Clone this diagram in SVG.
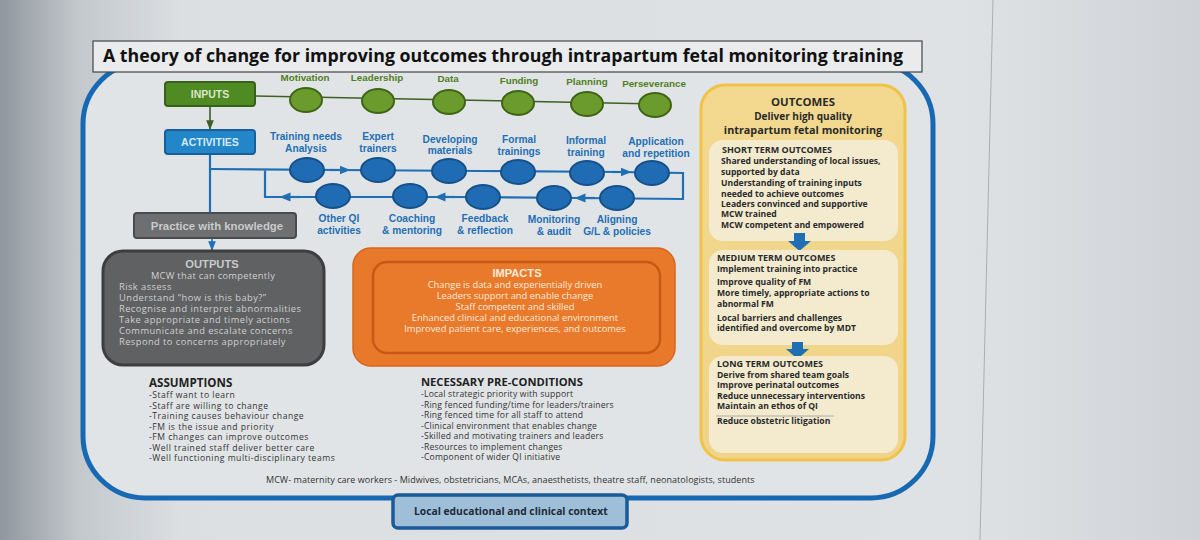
<svg xmlns="http://www.w3.org/2000/svg" width="1200" height="540" viewBox="0 0 1200 540">
<defs>
<linearGradient id="bg" x1="0" y1="0" x2="1" y2="0">
<stop offset="0" stop-color="#8f969d"/>
<stop offset="0.065" stop-color="#c3c8cd"/>
<stop offset="0.15" stop-color="#dbdfe2"/>
<stop offset="0.8" stop-color="#dfe2e5"/>
<stop offset="1" stop-color="#cfd3d7"/>
</linearGradient>
<linearGradient id="yel" x1="0" y1="0" x2="0" y2="1">
<stop offset="0" stop-color="#f2d98f"/>
<stop offset="1" stop-color="#efd389"/>
</linearGradient>
<marker id="ah" viewBox="0 0 10 10" refX="9" refY="5" markerWidth="6" markerHeight="6" orient="auto">
<path d="M0,1 L10,5 L0,9 z" fill="#1f6fb5"/>
</marker>
<marker id="ahg" viewBox="0 0 10 10" refX="9" refY="5" markerWidth="6" markerHeight="6" orient="auto">
<path d="M0,1 L10,5 L0,9 z" fill="#3f5f25"/>
</marker>
<marker id="mid" viewBox="0 0 10 10" refX="5" refY="5" markerWidth="5" markerHeight="5" orient="auto">
<path d="M0,1 L10,5 L0,9 z" fill="#1f6fb5"/>
</marker>
</defs>
<style>
.lbl{font-family:"Liberation Sans",Arial,sans-serif;font-weight:bold;font-size:10.2px;text-anchor:middle}
.gl{fill:#4f7f22;font-size:9.8px}
.bl{fill:#1f6fb5}
.gc{fill:#6b9b2c;stroke:#3d6515;stroke-width:2}
.bc{fill:#1f6cb4;stroke:#15508a;stroke-width:2}
.hdr{font-family:"Liberation Sans",Arial,sans-serif;font-weight:bold;text-anchor:middle}
.body{font-family:"Open Sans","Liberation Sans",sans-serif}
.bb{font-family:"Open Sans","Liberation Sans",sans-serif;font-weight:bold;fill:#2a2a2a}
.oc{font-size:8.6px}
.out{font-size:9.3px;letter-spacing:0.45px;fill:#cfd0d1}
.imp{font-size:9.4px;fill:#fbe9d8;text-anchor:middle}
.as{font-size:8.6px;letter-spacing:0.5px;fill:#333}
.pc{font-size:8.6px;letter-spacing:0.2px;fill:#333}
.mcw{font-size:9px;letter-spacing:0.05px;fill:#333}
.bline{fill:none;stroke:#1f6fb5;stroke-width:2.2}
</style>
<rect x="0" y="0" width="1200" height="540" fill="url(#bg)"/>
<path d="M993,0 L980,540" stroke="#a9aeb3" stroke-width="1"/>

<g id="frame">
<rect x="83" y="62" width="850" height="436" rx="62" ry="62" fill="#e1e4e6" stroke="#1769b3" stroke-width="5"/>
</g>

<g id="title">
<rect x="93" y="41" width="829" height="31" fill="#e9ebec" stroke="#444" stroke-width="1.2"/>
<text x="503" y="62" font-family="Open Sans,Liberation Sans,sans-serif" font-weight="bold" font-size="17.5" text-anchor="middle" fill="#111" textLength="800" lengthAdjust="spacingAndGlyphs">A theory of change for improving outcomes through intrapartum fetal monitoring training</text>
</g>

<g id="connectors">
<path d="M255,96 L657,104" stroke="#3f5f25" stroke-width="1.6" fill="none"/>
<path d="M210,106 L210,129" stroke="#3f5f25" stroke-width="1.6" fill="none" marker-end="url(#ahg)"/>
<path d="M210,154 L210,214" class="bline"/>
<path d="M210,169 L340,170 L480,171 L620,172 L683,173 L683,199 L580,198 L450,197 L300,197 L265,197 L265,169" class="bline"/>
<path d="M330,170 L345,170" class="bline" marker-end="url(#mid)"/>
<path d="M612,172 L626,172" class="bline" marker-end="url(#mid)"/>
<path d="M300,197 L285,197" class="bline" marker-end="url(#mid)"/>
<path d="M455,197 L440,197" class="bline" marker-end="url(#mid)"/>
<path d="M595,198 L580,198" class="bline" marker-end="url(#mid)"/>
<path d="M212,238 L212,250" stroke="#1f6fb5" stroke-width="1.6" fill="none" marker-end="url(#ah)"/>
</g>

<g id="inputs">
<rect x="165" y="82" width="90" height="24" rx="3" fill="#4f8a22" stroke="#35611a" stroke-width="2"/>
<text x="210" y="98" class="hdr" fill="#d9e6cc" style="font-size:10.5px">INPUTS</text>
</g>
<g id="input-motivation"><text x="305" y="81" class="lbl gl">Motivation</text><ellipse cx="306" cy="100" rx="16" ry="12" class="gc"/></g>
<g id="input-leadership"><text x="377" y="81" class="lbl gl">Leadership</text><ellipse cx="378" cy="101" rx="16" ry="12" class="gc"/></g>
<g id="input-data"><text x="448" y="82" class="lbl gl">Data</text><ellipse cx="449" cy="102" rx="16" ry="12" class="gc"/></g>
<g id="input-funding"><text x="519" y="84" class="lbl gl">Funding</text><ellipse cx="518" cy="103" rx="16" ry="12" class="gc"/></g>
<g id="input-planning"><text x="587" y="85" class="lbl gl">Planning</text><ellipse cx="587" cy="104" rx="16" ry="12" class="gc"/></g>
<g id="input-perseverance"><text x="654" y="87" class="lbl gl">Perseverance</text><ellipse cx="655" cy="105" rx="16" ry="12" class="gc"/></g>

<g id="activities">
<rect x="165" y="130" width="90" height="24" rx="3" fill="#2286c8" stroke="#175f9a" stroke-width="2"/>
<text x="210" y="146" class="hdr" fill="#d6e8f5" style="font-size:10.5px">ACTIVITIES</text>
</g>
<g id="act-tna"><text x="306" y="140" class="lbl bl">Training needs</text><text x="306" y="152" class="lbl bl">Analysis</text><ellipse cx="307" cy="170" rx="17" ry="12" class="bc"/></g>
<g id="act-expert"><text x="378" y="140" class="lbl bl">Expert</text><text x="378" y="152" class="lbl bl">trainers</text><ellipse cx="378" cy="170" rx="17" ry="12" class="bc"/></g>
<g id="act-materials"><text x="450" y="143" class="lbl bl">Developing</text><text x="450" y="154" class="lbl bl">materials</text><ellipse cx="449" cy="171" rx="17" ry="12" class="bc"/></g>
<g id="act-formal"><text x="519" y="143" class="lbl bl">Formal</text><text x="519" y="155" class="lbl bl">trainings</text><ellipse cx="518" cy="172" rx="17" ry="12" class="bc"/></g>
<g id="act-informal"><text x="586" y="144" class="lbl bl">Informal</text><text x="586" y="156" class="lbl bl">training</text><ellipse cx="587" cy="173" rx="17" ry="12" class="bc"/></g>
<g id="act-application"><text x="656" y="145" class="lbl bl">Application</text><text x="656" y="157" class="lbl bl">and repetition</text><ellipse cx="652" cy="173" rx="17" ry="12" class="bc"/></g>
<g id="act-otherqi"><ellipse cx="333" cy="196" rx="17" ry="12" class="bc"/><text x="339" y="222" class="lbl bl">Other QI</text><text x="339" y="234" class="lbl bl">activities</text></g>
<g id="act-coaching"><ellipse cx="410" cy="196" rx="17" ry="12" class="bc"/><text x="412" y="222" class="lbl bl">Coaching</text><text x="412" y="234" class="lbl bl">&amp; mentoring</text></g>
<g id="act-feedback"><ellipse cx="483" cy="197" rx="17" ry="12" class="bc"/><text x="485" y="222" class="lbl bl">Feedback</text><text x="485" y="234" class="lbl bl">&amp; reflection</text></g>
<g id="act-monitoring"><ellipse cx="554" cy="198" rx="17" ry="12" class="bc"/><text x="554" y="223" class="lbl bl">Monitoring</text><text x="554" y="235" class="lbl bl">&amp; audit</text></g>
<g id="act-aligning"><ellipse cx="617" cy="198" rx="17" ry="12" class="bc"/><text x="617" y="223" class="lbl bl">Aligning</text><text x="617" y="235" class="lbl bl">G/L &amp; policies</text></g>

<g id="practice">
<rect x="134" y="213" width="162" height="25" rx="3" fill="#6e6f70" stroke="#4a4b4c" stroke-width="2"/>
<text x="217" y="230" class="hdr" fill="#c9cacb" style="font-size:11.4px">Practice with knowledge</text>
</g>

<g id="outputs">
<rect x="103" y="251" width="221" height="114" rx="20" fill="#606162" stroke="#3d3e3f" stroke-width="3"/>
<text x="212" y="268" class="hdr" fill="#c9cacb" style="font-size:11.2px">OUTPUTS</text>
<text x="213" y="279" class="body out" style="letter-spacing:0.3px" text-anchor="middle">MCW that can competently</text>
<text x="119" y="290" class="body out">Risk assess</text>
<text x="119" y="301" class="body out">Understand “how is this baby?”</text>
<text x="119" y="312" class="body out">Recognise and interpret abnormalities</text>
<text x="119" y="323" class="body out">Take appropriate and timely actions</text>
<text x="119" y="334" class="body out">Communicate and escalate concerns</text>
<text x="119" y="345" class="body out">Respond to concerns appropriately</text>
</g>

<g id="impacts">
<rect x="353" y="248" width="322" height="118" rx="18" fill="#e8792b" stroke="#d8661c" stroke-width="1.5"/>
<rect x="373" y="262" width="287" height="91" rx="14" fill="#e97a2c" stroke="#c65a15" stroke-width="2.5"/>
<text x="517" y="277" class="hdr" fill="#fbe9d8" style="font-size:11.1px">IMPACTS</text>
<text x="515" y="288" class="body imp">Change is data and experientially driven</text>
<text x="515" y="299" class="body imp">Leaders support and enable change</text>
<text x="515" y="310" class="body imp">Staff competent and skilled</text>
<text x="515" y="321" class="body imp">Enhanced clinical and educational environment</text>
<text x="515" y="332" class="body imp">Improved patient care, experiences, and outcomes</text>
</g>

<g id="outcomes">
<rect x="701" y="85" width="204" height="375" rx="24" fill="url(#yel)" stroke="#f0c348" stroke-width="3"/>
<text x="803" y="106" class="bb" style="font-size:11.4px" text-anchor="middle">OUTCOMES</text>
<text x="803" y="120" class="bb" style="font-size:10px" text-anchor="middle">Deliver high quality</text>
<text x="803" y="134" class="bb" style="font-size:10.8px" text-anchor="middle">intrapartum fetal monitoring</text>
</g>
<g id="short-term">
<rect x="709" y="140" width="189" height="101" rx="14" fill="#f4ebcf"/>
<text x="722" y="153" class="bb" style="font-size:9px">SHORT TERM OUTCOMES</text>
<text x="721" y="164" class="bb oc">Shared understanding of local issues,</text>
<text x="721" y="174.5" class="bb oc">supported by data</text>
<text x="721" y="185.5" class="bb oc">Understanding of training inputs</text>
<text x="721" y="196.5" class="bb oc">needed to achieve outcomes</text>
<text x="721" y="207" class="bb oc">Leaders convinced and supportive</text>
<text x="721" y="217" class="bb oc">MCW trained</text>
<text x="721" y="228" class="bb oc">MCW competent and empowered</text>
</g>
<g id="arrow-1"><path d="M794,233 L805,233 L805,241 L811,241 L799.5,251 L788,241 L794,241 z" fill="#1f6fb5"/></g>
<g id="medium-term">
<rect x="709" y="250" width="189" height="95" rx="14" fill="#f4ebcf"/>
<text x="717" y="261" class="bb" style="font-size:9px">MEDIUM TERM OUTCOMES</text>
<text x="717" y="272" class="bb oc">Implement training into practice</text>
<text x="717" y="285" class="bb oc">Improve quality of FM</text>
<text x="717" y="296" class="bb oc">More timely, appropriate actions to</text>
<text x="717" y="307" class="bb oc">abnormal FM</text>
<text x="717" y="321" class="bb oc">Local barriers and challenges</text>
<text x="717" y="331" class="bb oc">identified and overcome by MDT</text>
</g>
<g id="arrow-2"><path d="M792,342 L803,342 L803,349 L809,349 L797.5,359 L786,349 L792,349 z" fill="#1f6fb5"/></g>
<g id="long-term">
<rect x="709" y="356" width="189" height="97" rx="14" fill="#f4ebcf"/>
<text x="717" y="367" class="bb" style="font-size:9px">LONG TERM OUTCOMES</text>
<text x="717" y="377.5" class="bb oc">Derive from shared team goals</text>
<text x="717" y="388" class="bb oc">Improve perinatal outcomes</text>
<text x="717" y="398.5" class="bb oc">Reduce unnecessary interventions</text>
<text x="717" y="408.5" class="bb oc">Maintain an ethos of QI</text>
<line x1="716" y1="416" x2="834" y2="416" stroke="#999" stroke-width="0.8"/>
<text x="717" y="424" class="bb oc">Reduce obstetric litigation</text>
</g>

<g id="assumptions">
<text x="149" y="387" class="bb" style="font-size:11.6px;fill:#222">ASSUMPTIONS</text>
<text x="149" y="398" class="body as">-Staff want to learn</text>
<text x="149" y="408.5" class="body as">-Staff are willing to change</text>
<text x="149" y="419" class="body as">-Training causes behaviour change</text>
<text x="149" y="429.5" class="body as">-FM is the issue and priority</text>
<text x="149" y="440" class="body as">-FM changes can improve outcomes</text>
<text x="149" y="450.5" class="body as">-Well trained staff deliver better care</text>
<text x="149" y="461" class="body as">-Well functioning multi-disciplinary teams</text>
</g>

<g id="preconditions">
<text x="421" y="386" class="bb" style="font-size:11.2px;fill:#222">NECESSARY PRE-CONDITIONS</text>
<text x="421" y="397" class="body pc">-Local strategic priority with support</text>
<text x="421" y="407.5" class="body pc">-Ring fenced funding/time for leaders/trainers</text>
<text x="421" y="418" class="body pc">-Ring fenced time for all staff to attend</text>
<text x="421" y="428.5" class="body pc">-Clinical environment that enables change</text>
<text x="421" y="439" class="body pc">-Skilled and motivating trainers and leaders</text>
<text x="421" y="449.5" class="body pc">-Resources to implement changes</text>
<text x="421" y="460" class="body pc">-Component of wider QI initiative</text>
</g>

<g id="mcw-note">
<text x="266" y="483" class="body mcw">MCW- maternity care workers - Midwives, obstetricians, MCAs, anaesthetists, theatre staff, neonatologists, students</text>
</g>

<g id="context">
<rect x="393" y="495" width="234" height="33" rx="5" fill="#9fbfd8" stroke="#1a5a97" stroke-width="3.5"/>
<text x="414" y="515" class="bb" style="font-size:10.3px;fill:#1d2a38">Local educational and clinical context</text>
</g>
</svg>
